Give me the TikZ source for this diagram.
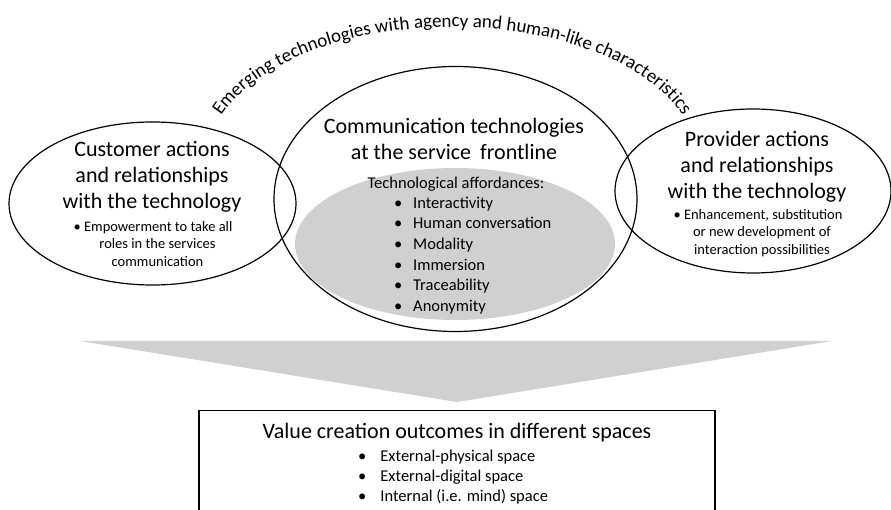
\documentclass[tikz,border=0pt]{standalone}
\usepackage{fontspec}
\setmainfont{Carlito}
\usetikzlibrary{decorations.text}
\definecolor{coregray}{RGB}{208,208,208}
\begin{document}
\begin{tikzpicture}[x=1pt,y=-1pt,
  outline/.style={draw=black, line width=1.2pt},
  heading/.style={align=center, inner sep=0pt, font=\fontsize{22}{26}\selectfont},
  detail/.style={align=center, inner sep=0pt, font=\fontsize{14.5}{17.7}\selectfont},
  listing/.style={align=left, inner sep=0pt, font=\fontsize{16.5}{20.7}\selectfont},
]
\useasboundingbox (0,0) rectangle (891,510);
\clip (0,0) rectangle (891,510);

% funnel pointing down to the outcome box
\fill[coregray] (80,341) -- (832,341) -- (457,402) -- cycle;

% shaded core holding the affordances
\fill[coregray] (455,244) ellipse [x radius=160, y radius=76];

% the three overlapping ellipses
\draw[outline] (152.5,203.5) ellipse [x radius=143.5, y radius=81.5];
\draw[outline] (455.5,199) ellipse [x radius=181.5, y radius=132.5];
\draw[outline] (753,191) ellipse [x radius=138, y radius=82];

% arched caption over the ellipses
\coordinate (archstart) at (219,119.6);
\path[decorate, decoration={text along path, text align=center,
  text={|\fontsize{19}{19}\selectfont|Emerging technologies with agency and human-like characteristics}}]
  (archstart) arc[start angle=198, end angle=342, x radius=245, y radius=134];

% customer side
\node[heading] (custtitle) at (152,177) {Customer actions\\and relationships\\with the technology};
\node[detail] (custnote) at (153,244) {\textbullet\ Empowerment to take all\\\hspace*{9pt}roles in the services\\\hspace*{9pt}communication};

% centre
\node[heading] (centtitle) at (454,139) {Communication technologies\\at the service\hspace{4pt} frontline};
\node[listing, align=center] (afftitle) at (456,184) {Technological affordances:};
\node[listing, anchor=west] (afflist) at (394,255.5) {%
\textbullet\hspace{10.8pt}Interactivity\\
\textbullet\hspace{10.8pt}Human conversation\\
\textbullet\hspace{10.8pt}Modality\\
\textbullet\hspace{10.8pt}Immersion\\
\textbullet\hspace{10.8pt}Traceability\\
\textbullet\hspace{10.8pt}Anonymity};

% provider side
\node[heading] (provtitle) at (757,167) {Provider actions\\and relationships\\with the technology};
\node[detail] (provnote) at (758,233) {\textbullet\ Enhancement, substitution\\\hspace*{8pt}or new development of\\\hspace*{8pt}interaction possibilities};

% outcome box
\node[draw=black, line width=1.2pt, minimum width=516pt, minimum height=130pt,
  anchor=north, inner sep=0pt] (outcomes) at (457,410) {};
\node[heading, font=\fontsize{22}{25}\selectfont] (outtitle) at (457,433) {Value creation outcomes in different spaces};
\node[listing, font=\fontsize{16.5}{20}\selectfont, anchor=west] (outlist) at (358,477) {%
\textbullet\hspace{14pt}External-physical space\\
\textbullet\hspace{14pt}External-digital space\\
\textbullet\hspace{14pt}Internal (i.e. mind) space};
\end{tikzpicture}
\end{document}
